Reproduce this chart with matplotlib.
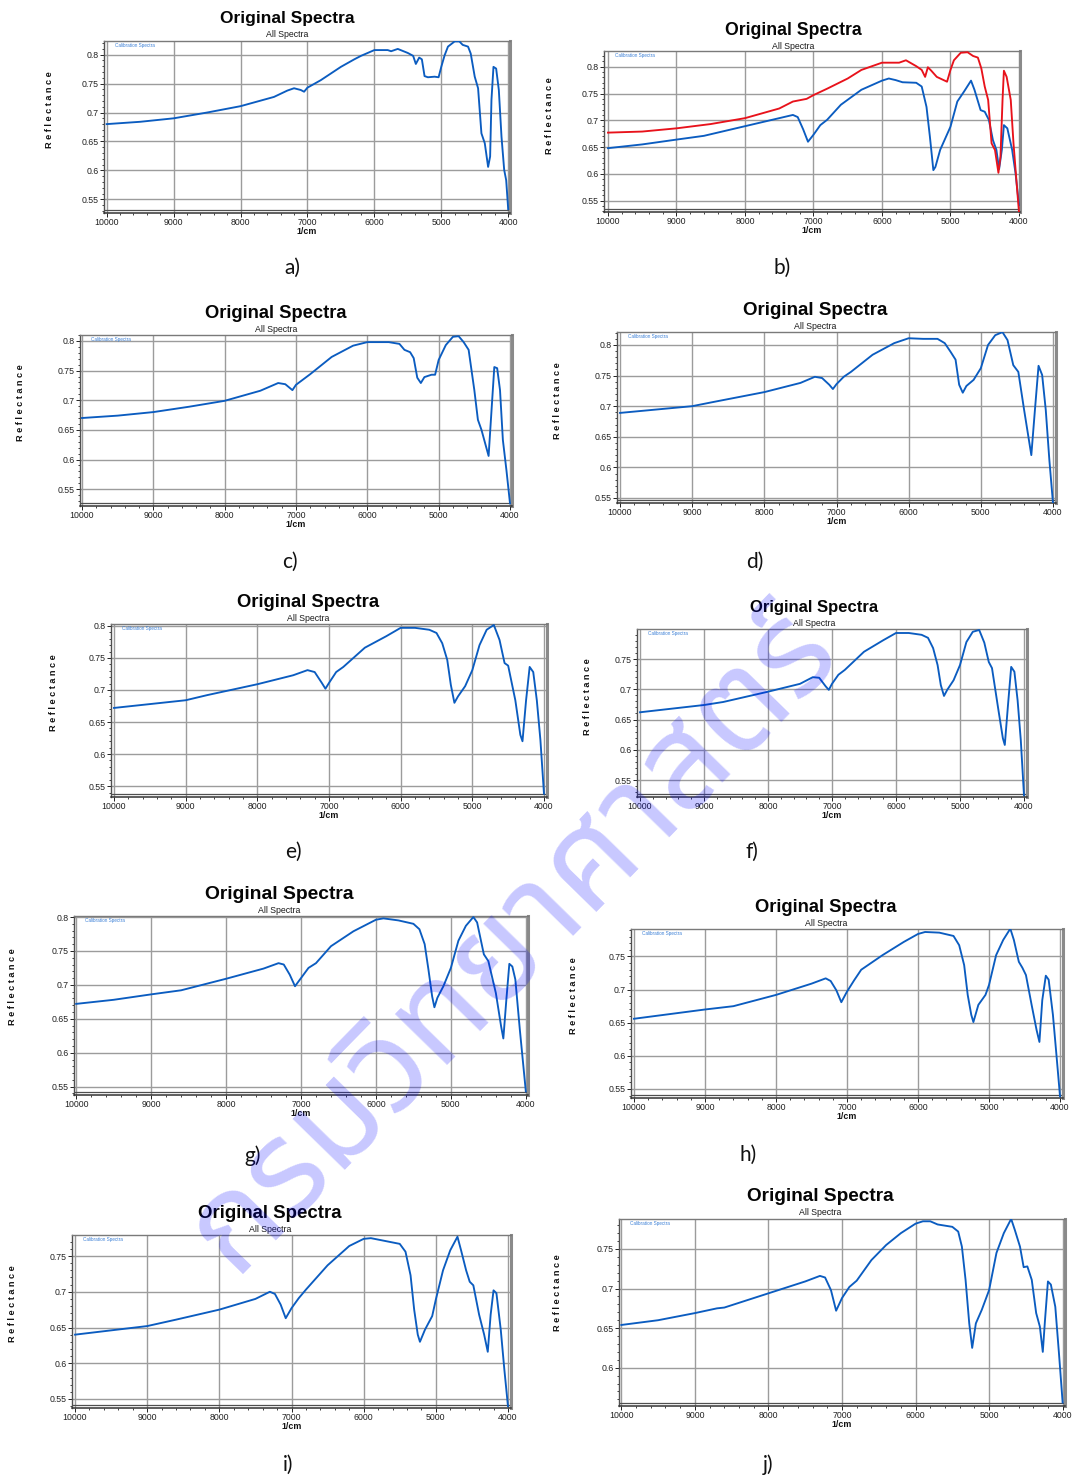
import matplotlib
matplotlib.use("Agg")
import matplotlib.pyplot as plt
from matplotlib.ticker import MultipleLocator, FuncFormatter
from matplotlib import font_manager
from matplotlib.ft2font import FT2Font

# ---------------------------------------------------------------- data
# wavenumber (1/cm) and reflectance for each spectrum
a_wn = [10000, 9500, 9000, 8500, 8000, 7500, 7300, 7200, 7100, 7050, 7000, 6800, 6500, 6300, 6200,
        6000, 5800, 5750, 5650, 5500, 5420, 5380, 5330, 5290, 5250, 5200, 5100, 5040, 5000, 4950,
        4900, 4800, 4730, 4680, 4600, 4560, 4500, 4450, 4400, 4350, 4300, 4270, 4250, 4220, 4180,
        4140, 4100, 4060, 4030, 4000]
a_refl = [0.680, 0.684, 0.690, 0.700, 0.711, 0.727, 0.738, 0.742, 0.739, 0.736, 0.743, 0.756, 0.779, 0.792, 0.798,
          0.808, 0.808, 0.806, 0.810, 0.803, 0.798, 0.784, 0.795, 0.792, 0.763, 0.761, 0.762, 0.761, 0.779, 0.799,
          0.814, 0.823, 0.823, 0.817, 0.814, 0.802, 0.762, 0.742, 0.664, 0.647, 0.606, 0.624, 0.722, 0.779, 0.776,
          0.739, 0.658, 0.601, 0.583, 0.533]

b_red_wn = [10000, 9500, 9000, 8500, 8000, 7500, 7300, 7100, 7000, 6800, 6500, 6300, 6000, 5750, 5650,
            5500, 5420, 5370, 5330, 5280, 5200, 5100, 5050, 5000, 4950, 4850, 4750, 4670, 4600, 4550,
            4500, 4450, 4400, 4350, 4300, 4270, 4240, 4220, 4180, 4120, 4080, 4030, 4000]
b_red_refl = [0.677, 0.679, 0.685, 0.693, 0.704, 0.722, 0.735, 0.740, 0.747, 0.759, 0.778, 0.794, 0.8075, 0.8075, 0.812,
              0.801, 0.794, 0.781, 0.799, 0.7925, 0.781, 0.775, 0.772, 0.794, 0.812, 0.826, 0.827, 0.820, 0.817, 0.797,
              0.763, 0.738, 0.657, 0.6445, 0.602, 0.632, 0.738, 0.7925, 0.781, 0.738, 0.657, 0.576, 0.529]
b_blue_wn = [10000, 9500, 9000, 8600, 8000, 7500, 7300, 7230, 7150, 7080, 7000, 6900, 6800, 6600, 6300,
             6000, 5900, 5800, 5700, 5500, 5420, 5350, 5300, 5250, 5220, 5150, 5000, 4900, 4800, 4700,
             4650, 4560, 4500, 4440, 4380, 4330, 4290, 4250, 4220, 4170, 4100, 4050, 4000]
b_blue_refl = [0.648, 0.655, 0.664, 0.671, 0.689, 0.704, 0.710, 0.706, 0.683, 0.660, 0.673, 0.691, 0.701, 0.729, 0.757,
               0.774, 0.778, 0.775, 0.771, 0.770, 0.763, 0.725, 0.669, 0.607, 0.613, 0.645, 0.688, 0.735, 0.754, 0.774,
               0.757, 0.719, 0.716, 0.701, 0.663, 0.645, 0.609, 0.645, 0.691, 0.685, 0.645, 0.601, 0.542]

c_wn = [10000, 9500, 9000, 8500, 8000, 7500, 7250, 7150, 7050, 7000, 6800, 6500, 6200, 6000, 5700,
        5550, 5480, 5400, 5350, 5300, 5250, 5200, 5100, 5050, 5000, 4900, 4800, 4720, 4650, 4580,
        4500, 4450, 4400, 4300, 4250, 4220, 4180, 4140, 4100, 4050, 4000]
c_refl = [0.670, 0.674, 0.680, 0.689, 0.699, 0.716, 0.729, 0.727, 0.717, 0.726, 0.744, 0.773, 0.792, 0.798, 0.798,
          0.795, 0.785, 0.781, 0.771, 0.738, 0.729, 0.739, 0.743, 0.743, 0.768, 0.793, 0.807, 0.808, 0.798, 0.785,
          0.717, 0.667, 0.650, 0.606, 0.700, 0.756, 0.754, 0.717, 0.633, 0.582, 0.526]

d_wn = [10000, 9000, 8700, 8000, 7500, 7300, 7200, 7100, 7050, 7000, 6900, 6800, 6500, 6200, 6000,
        5800, 5600, 5500, 5420, 5350, 5300, 5250, 5200, 5100, 5000, 4900, 4800, 4700, 4630, 4550,
        4480, 4400, 4300, 4250, 4200, 4150, 4100, 4050, 4000]
d_refl = [0.689, 0.700, 0.707, 0.723, 0.738, 0.748, 0.746, 0.735, 0.728, 0.736, 0.748, 0.756, 0.784, 0.803, 0.811,
          0.810, 0.810, 0.803, 0.789, 0.776, 0.735, 0.722, 0.733, 0.743, 0.762, 0.800, 0.816, 0.821, 0.808, 0.767,
          0.756, 0.694, 0.620, 0.694, 0.766, 0.751, 0.694, 0.612, 0.542]

e_wn = [10000, 9000, 8700, 8000, 7500, 7300, 7200, 7100, 7050, 7000, 6900, 6800, 6500, 6200, 6000,
        5800, 5600, 5500, 5420, 5350, 5300, 5250, 5200, 5100, 5000, 4900, 4800, 4700, 4620, 4550,
        4500, 4400, 4330, 4300, 4250, 4200, 4150, 4100, 4050, 4000]
e_refl = [0.672, 0.684, 0.692, 0.709, 0.723, 0.731, 0.728, 0.711, 0.702, 0.711, 0.728, 0.736, 0.766, 0.784, 0.797,
          0.797, 0.794, 0.789, 0.773, 0.747, 0.708, 0.680, 0.690, 0.706, 0.731, 0.770, 0.794, 0.8015, 0.778, 0.742,
          0.738, 0.684, 0.630, 0.620, 0.684, 0.736, 0.728, 0.684, 0.622, 0.538]

f_wn = [10000, 9000, 8700, 8000, 7500, 7300, 7200, 7100, 7050, 7000, 6900, 6800, 6500, 6200, 6000,
        5800, 5600, 5500, 5420, 5350, 5300, 5250, 5200, 5100, 5000, 4900, 4800, 4700, 4620, 4550,
        4500, 4400, 4330, 4300, 4250, 4200, 4150, 4100, 4050, 4000]
f_refl = [0.662, 0.674, 0.679, 0.696, 0.709, 0.720, 0.719, 0.705, 0.699, 0.709, 0.724, 0.732, 0.762, 0.781, 0.793,
          0.793, 0.790, 0.785, 0.768, 0.740, 0.707, 0.689, 0.699, 0.715, 0.740, 0.778, 0.795, 0.798, 0.777, 0.745,
          0.735, 0.666, 0.619, 0.608, 0.674, 0.737, 0.729, 0.682, 0.616, 0.525]

g_wn = [10000, 9500, 9000, 8600, 8000, 7500, 7300, 7230, 7150, 7080, 7000, 6900, 6800, 6600, 6300,
        6000, 5900, 5700, 5500, 5420, 5350, 5300, 5250, 5220, 5180, 5100, 5000, 4900, 4800, 4700,
        4650, 4560, 4500, 4400, 4330, 4300, 4260, 4220, 4180, 4140, 4080, 4000]
g_refl = [0.672, 0.678, 0.686, 0.692, 0.709, 0.724, 0.732, 0.730, 0.715, 0.698, 0.710, 0.725, 0.732, 0.757, 0.779,
          0.796, 0.798, 0.795, 0.790, 0.782, 0.760, 0.723, 0.683, 0.667, 0.681, 0.698, 0.725, 0.765, 0.787, 0.800,
          0.792, 0.745, 0.735, 0.688, 0.639, 0.621, 0.678, 0.731, 0.727, 0.708, 0.634, 0.543]

h_wn = [10000, 9000, 8600, 8000, 7500, 7300, 7230, 7150, 7080, 7000, 6900, 6800, 6500, 6200, 6000,
        5900, 5700, 5500, 5420, 5350, 5300, 5250, 5220, 5150, 5050, 5000, 4900, 4800, 4700, 4650,
        4580, 4530, 4480, 4400, 4330, 4290, 4250, 4200, 4160, 4100, 4050, 4000]
h_refl = [0.656, 0.670, 0.675, 0.692, 0.709, 0.717, 0.713, 0.699, 0.681, 0.697, 0.714, 0.730, 0.752, 0.772, 0.784,
          0.787, 0.786, 0.781, 0.767, 0.737, 0.692, 0.662, 0.651, 0.677, 0.692, 0.707, 0.752, 0.775, 0.792, 0.775,
          0.742, 0.733, 0.722, 0.677, 0.639, 0.621, 0.684, 0.721, 0.715, 0.662, 0.601, 0.539]

i_wn = [10000, 9000, 8600, 8000, 7500, 7300, 7230, 7150, 7080, 7000, 6900, 6800, 6500, 6200, 6000,
        5900, 5700, 5500, 5420, 5350, 5300, 5250, 5220, 5150, 5050, 5000, 4900, 4800, 4700, 4650,
        4580, 4530, 4480, 4400, 4330, 4280, 4240, 4200, 4160, 4100, 4050, 4000]
i_refl = [0.640, 0.652, 0.661, 0.675, 0.690, 0.700, 0.697, 0.682, 0.663, 0.677, 0.691, 0.703, 0.737, 0.764, 0.774,
          0.775, 0.771, 0.767, 0.756, 0.723, 0.675, 0.640, 0.630, 0.647, 0.666, 0.689, 0.730, 0.758, 0.777, 0.758,
          0.730, 0.714, 0.709, 0.668, 0.640, 0.616, 0.668, 0.702, 0.698, 0.647, 0.591, 0.540]

j_wn = [10000, 9500, 9000, 8700, 8600, 8000, 7500, 7300, 7230, 7150, 7080, 7000, 6900, 6800, 6600,
        6400, 6200, 6000, 5900, 5800, 5700, 5500, 5420, 5370, 5320, 5270, 5230, 5180, 5100, 5000,
        4900, 4800, 4700, 4650, 4580, 4530, 4480, 4420, 4360, 4310, 4270, 4240, 4200, 4160, 4100,
        4050, 4000]
j_refl = [0.654, 0.660, 0.669, 0.675, 0.676, 0.694, 0.709, 0.716, 0.714, 0.698, 0.672, 0.688, 0.702, 0.710, 0.736,
          0.755, 0.770, 0.782, 0.785, 0.785, 0.781, 0.778, 0.772, 0.753, 0.711, 0.656, 0.625, 0.656, 0.673, 0.698,
          0.745, 0.770, 0.788, 0.774, 0.753, 0.727, 0.728, 0.711, 0.669, 0.652, 0.620, 0.660, 0.709, 0.705, 0.677,
          0.618, 0.556]

panel_letters = ["a", "b", "c", "d", "e", "f", "g", "h", "i", "j"]
title_text = "Original Spectra"
subtitle_text = "All Spectra"
legend_text = "Calibration Spectra"
ylabel_text = "R e f l e c t a n c e"
xlabel_text = "1/cm"
watermark_text = "กรมวิทยาศาสตร์"

# ---------------------------------------------------------------- style
W, H = 1076, 1481
BLUE = "#0b5cc0"
RED = "#e8121b"
SANS = "Liberation Sans"

fig = plt.figure(figsize=(W / 100, H / 100), dpi=100)
fig.patch.set_facecolor("white")


def fx(x):
    return x / W


def fy(y):
    return 1 - y / H


# layout in pixels: axes box (left, top, right, bottom), axis limits,
# title centre, y-label centre, caption centre, title size
layout = {
    "a": dict(rect=(104, 41, 510, 213), xlim=(10040, 3973), ylim=(0.5263, 0.8237),
              title=(287, 17), ylab=(49, 110), cap=(292, 268), tfs=12.5),
    "b": dict(rect=(604, 51, 1020, 212), xlim=(10058, 3985), ylim=(0.5289, 0.8293),
              title=(793, 29), ylab=(549, 116), cap=(782, 268), tfs=12.7),
    "c": dict(rect=(80, 335, 512, 506), xlim=(10028, 3972), ylim=(0.5216, 0.8100),
              title=(276, 312), ylab=(21, 403), cap=(290, 562), tfs=13.2),
    "d": dict(rect=(617, 332, 1056, 503), xlim=(10042, 3958), ylim=(0.5418, 0.8212),
              title=(815, 309), ylab=(558, 401), cap=(755, 562), tfs=13.5),
    "e": dict(rect=(111, 624, 547, 797), xlim=(10042, 3958), ylim=(0.5330, 0.8030),
              title=(308, 601), ylab=(53, 693), cap=(293, 852), tfs=13.3),
    "f": dict(rect=(637, 629, 1027, 797), xlim=(10047, 3953), ylim=(0.5220, 0.7996),
              title=(814, 606), ylab=(587, 697), cap=(752, 852), tfs=12.0),
    "g": dict(rect=(74, 916, 528, 1095), xlim=(10029, 3971), ylim=(0.5377, 0.8015),
              title=(279, 893), ylab=(13, 987), cap=(253, 1156), tfs=13.9),
    "h": dict(rect=(631, 929, 1063, 1098), xlim=(10042, 3958), ylim=(0.5364, 0.7915),
              title=(826, 906), ylab=(573, 996), cap=(748, 1155), tfs=13.2),
    "i": dict(rect=(72, 1235, 511, 1408), xlim=(10042, 3958), ylim=(0.5374, 0.7794),
              title=(270, 1212), ylab=(13, 1304), cap=(288, 1465), tfs=13.4),
    "j": dict(rect=(619, 1219, 1065, 1406), xlim=(10032, 3968), ylim=(0.5516, 0.7879),
              title=(820, 1195), ylab=(558, 1293), cap=(768, 1465), tfs=13.7),
}

series = {
    "a": [(a_wn, a_refl, BLUE)],
    "b": [(b_blue_wn, b_blue_refl, BLUE), (b_red_wn, b_red_refl, RED)],
    "c": [(c_wn, c_refl, BLUE)],
    "d": [(d_wn, d_refl, BLUE)],
    "e": [(e_wn, e_refl, BLUE)],
    "f": [(f_wn, f_refl, BLUE)],
    "g": [(g_wn, g_refl, BLUE)],
    "h": [(h_wn, h_refl, BLUE)],
    "i": [(i_wn, i_refl, BLUE)],
    "j": [(j_wn, j_refl, BLUE)],
}


def fmt_refl(v, _pos):
    return ("%.2f" % v).rstrip("0").rstrip(".")


def draw_panel(letter):
    p = layout[letter]
    l, t, r, b = p["rect"]
    ax = fig.add_axes([fx(l), fy(b), (r - l) / W, (b - t) / H])
    for wn, rf, col in series[letter]:
        ax.plot(wn, rf, color=col, lw=1.35, solid_joinstyle="round", zorder=3)
    ax.set_xlim(*p["xlim"])
    ax.set_ylim(*p["ylim"])

    ax.xaxis.set_major_locator(MultipleLocator(1000))
    ax.xaxis.set_minor_locator(MultipleLocator(200))
    ax.yaxis.set_major_locator(MultipleLocator(0.05))
    ax.yaxis.set_minor_locator(MultipleLocator(0.01))
    ax.yaxis.set_major_formatter(FuncFormatter(fmt_refl))
    ax.xaxis.set_major_formatter(FuncFormatter(lambda v, _p: "%d" % round(v)))

    ax.grid(True, which="major", color="#9c9c9c", lw=1.0)
    ax.set_axisbelow(True)

    # second rule just above the bottom frame
    y0, y1 = p["ylim"]
    ax.axhline(y0 + (y1 - y0) * 3.0 / (b - t), color="#505050", lw=0.9, zorder=2)

    for side, col, lw in (("left", "#505050", 1.0), ("top", "#7a7a7a", 1.0),
                          ("right", "#8a8a8a", 2.2), ("bottom", "#333333", 1.1)):
        ax.spines[side].set_color(col)
        ax.spines[side].set_linewidth(lw)

    ax.tick_params(axis="both", which="major", direction="out", length=2.6, width=0.7,
                   colors="#222222", labelsize=6.3, pad=1.2)
    ax.tick_params(axis="both", which="minor", direction="out", length=1.6, width=0.6,
                   colors="#222222")
    for lab in ax.get_xticklabels() + ax.get_yticklabels():
        lab.set_fontfamily(SANS)

    ax.set_xlabel(xlabel_text, fontsize=6.4, fontweight="bold", fontfamily=SANS,
                  labelpad=-0.5, color="#111111")

    # header, legend note, axis title and caption
    tx, ty = p["title"]
    fig.text(fx(tx), fy(ty + 1.5), title_text, ha="center", va="center", fontsize=p["tfs"],
             fontweight="bold", fontfamily=SANS, color="#050505")
    fig.text(fx(tx), fy(ty + 17.5), subtitle_text, ha="center", va="center", fontsize=6.3,
             fontfamily=SANS, color="#1a1a1a")
    fig.text(fx(l + 11), fy(t + 4.5), legend_text, ha="left", va="center", fontsize=3.3,
             fontfamily=SANS, color="#3a7fd6")
    yx, yy = p["ylab"]
    fig.text(fx(yx), fy(yy), ylabel_text, ha="center", va="center", rotation=90,
             fontsize=6.6, fontweight="bold", fontfamily=SANS, color="#111111")
    cx, cy = p["cap"]
    fig.text(fx(cx), fy(cy), letter + ")", ha="center", va="center", fontsize=15,
             fontfamily=["Lato", "DejaVu Sans"], fontweight="normal", color="#111111")
    return ax


for letter in panel_letters:
    draw_panel(letter)


# ---------------------------------------------------------------- watermark
def thai_family():
    found = []
    seen = set()
    for ent in font_manager.fontManager.ttflist:
        if ent.fname in seen:
            continue
        seen.add(ent.fname)
        try:
            if ord("ก") in FT2Font(ent.fname).get_charmap():
                found.append(ent.name)
        except Exception:
            continue
    for pref in ("Noto Sans Thai", "Noto Sans Thai UI", "Kanit", "Prompt", "Mitr",
                 "Sarabun", "Waree", "Loma", "Garuda"):
        if pref in found:
            return pref
    return found[0] if found else "DejaVu Sans"


wm_family = thai_family()
wm = fig.text(fx(512), fy(940), watermark_text, ha="center", va="center",
              fontsize=100, fontweight="bold", fontfamily=[wm_family, "DejaVu Sans"],
              color=(0.0, 0.0, 1.0, 0.22), rotation_mode="anchor", zorder=20)
renderer = fig.canvas.get_renderer()
width_px = wm.get_window_extent(renderer).width
wm.set_fontsize(100 * 870.0 / max(width_px, 1.0))
wm.set_rotation(45.7)

fig.savefig("out.png", dpi=100, facecolor="white")
